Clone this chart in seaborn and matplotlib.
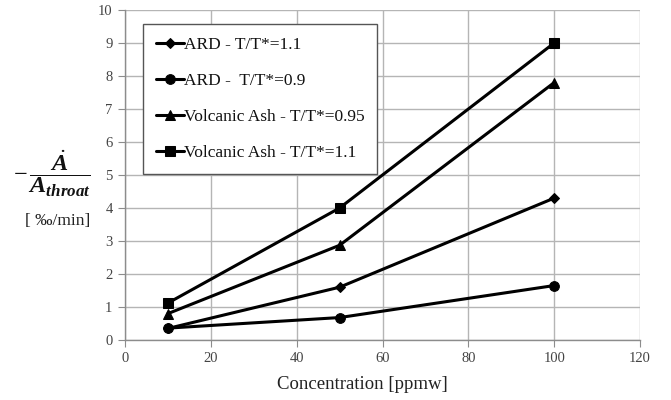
import matplotlib
matplotlib.use("Agg")
import matplotlib.pyplot as plt
import seaborn as sns
import pandas as pd

concentration = [10, 50, 100]
ard_11 = [0.35, 1.6, 4.3]
ard_09 = [0.36, 0.68, 1.65]
va_095 = [0.8, 2.87, 7.8]
va_11 = [1.12, 4.0, 9.0]
labels = ["ARD - T/T*=1.1", "ARD -  T/T*=0.9",
          "Volcanic Ash - T/T*=0.95", "Volcanic Ash - T/T*=1.1"]
x_ticks = [0, 20, 40, 60, 80, 100, 120]
y_ticks = list(range(0, 11))

sns.set_style("white")
plt.rcParams['font.family'] = ['Liberation Serif', 'DejaVu Serif']
plt.rcParams['mathtext.fontset'] = 'custom'
plt.rcParams['mathtext.it'] = 'Liberation Serif:italic:bold'
plt.rcParams['mathtext.rm'] = 'Liberation Serif'
plt.rcParams['mathtext.bf'] = 'Liberation Serif:bold'

rows = []
for lab, vals in zip(labels, [ard_11, ard_09, va_095, va_11]):
    for x, y in zip(concentration, vals):
        rows.append({"Concentration": x, "Value": y, "Series": lab})
df = pd.DataFrame(rows)

fig = plt.figure(figsize=(6.71, 4.0), dpi=100)
ax = fig.add_axes([125/671, 1-340/400, 515/671, 330/400])

markers = {labels[0]: "D", labels[1]: "o", labels[2]: "^", labels[3]: "s"}
sizes_m = {labels[0]: 5, labels[1]: 7, labels[2]: 7, labels[3]: 6.5}
for lab in labels:
    sub = df[df["Series"] == lab]
    sns.lineplot(data=sub, x="Concentration", y="Value", ax=ax, color="black",
                 marker=markers[lab], markersize=sizes_m[lab], linewidth=2.2,
                 markeredgecolor="black", label=lab)

ax.set_xlim(0, 120)
ax.set_ylim(0, 10)
ax.set_xticks(x_ticks)
ax.set_yticks(y_ticks)
ax.grid(True, color="#b5b5b5", linewidth=1.0)
ax.set_axisbelow(True)
for s in ["top", "right"]:
    ax.spines[s].set_visible(False)
for s in ["left", "bottom"]:
    ax.spines[s].set_color("#8c8c8c")
    ax.spines[s].set_linewidth(1.0)
ax.tick_params(axis="both", direction="out", length=5, color="#8c8c8c",
               labelsize=10.5, labelcolor="#444444", left=True, bottom=True, pad=4)
ax.set_xlabel("Concentration [ppmw]", fontsize=13.5, color="#222222")
ax.xaxis.set_label_coords((362-125)/515, -0.108)
ax.xaxis.label.set_va("top")
ax.set_ylabel("")

leg = ax.legend(loc="upper left", bbox_to_anchor=(0.035, 0.958), fontsize=12.5,
                frameon=True, fancybox=False, edgecolor="#555555",
                labelspacing=1.15, handlelength=1.6, handletextpad=0.0,
                borderpad=0.75, borderaxespad=0, framealpha=1)
leg.get_frame().set_linewidth(1.0)
for t in leg.get_texts():
    t.set_color("#111111")

fig.text(52/671, 1-174/400, r"$-\,\dfrac{\dot{A}}{A_{throat}}$", fontsize=17.5,
         ha="center", va="center", color="#111111")
fig.text(58/671, 1-221/400, "[ ‰/min]", fontsize=12.5, ha="center", va="center",
         color="#222222")

fig.savefig("out.png", dpi=100)
